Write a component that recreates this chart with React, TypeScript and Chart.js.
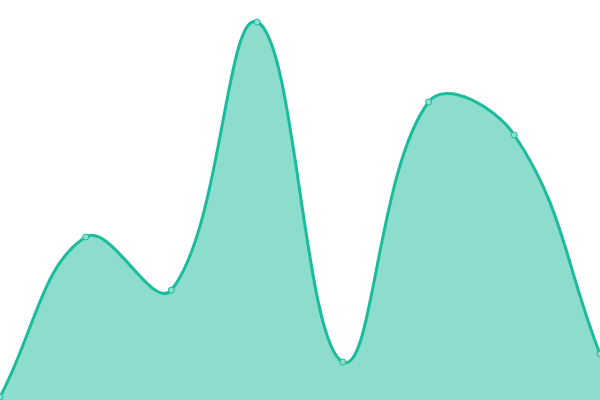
import { useEffect, useRef } from "react";
import { Chart, registerables } from "chart.js";
Chart.register(...registerables);

const LABELS = ["A", "B", "C", "D", "E", "F", "G", "H"];
const VALUES = [0.75, 40.75, 27.5, 94.5, 9.5, 74.5, 66.25, 11.5];
const LINE_COLOR = "#1abc9c";
const FILL_COLOR = "rgba(26, 188, 156, 0.5)";
const POINT_FILL = "#8fdfcf";

export default function App() {
  const canvasRef = useRef<HTMLCanvasElement>(null);
  const chartInst = useRef<Chart | null>(null);

  useEffect(() => {
    document.body.style.margin = "0";
    if (!canvasRef.current) return;
    if (chartInst.current) chartInst.current.destroy();
    chartInst.current = new Chart(canvasRef.current, {
      type: "line",
      data: {
        labels: LABELS,
        datasets: [{
          data: VALUES,
          borderColor: LINE_COLOR,
          backgroundColor: FILL_COLOR,
          borderWidth: 3,
          tension: 0.4,
          fill: true,
          pointRadius: 3,
          pointBorderWidth: 1,
          pointBorderColor: LINE_COLOR,
          pointBackgroundColor: POINT_FILL,
        }],
      },
      options: {
        responsive: true,
        maintainAspectRatio: false,
        animation: false,
        layout: { padding: 0, autoPadding: false },
        plugins: { legend: { display: false }, tooltip: { enabled: false } },
        scales: {
          x: { display: false, offset: false },
          y: { display: false, min: 0, max: 100 },
        },
      },
    });
    return () => { chartInst.current?.destroy(); chartInst.current = null; };
  }, []);

  return (
    <div style={{ position: "fixed", top: 0, left: 0, width: 600, height: 400, background: "#fff" }}>
      <canvas ref={canvasRef} />
    </div>
  );
}
